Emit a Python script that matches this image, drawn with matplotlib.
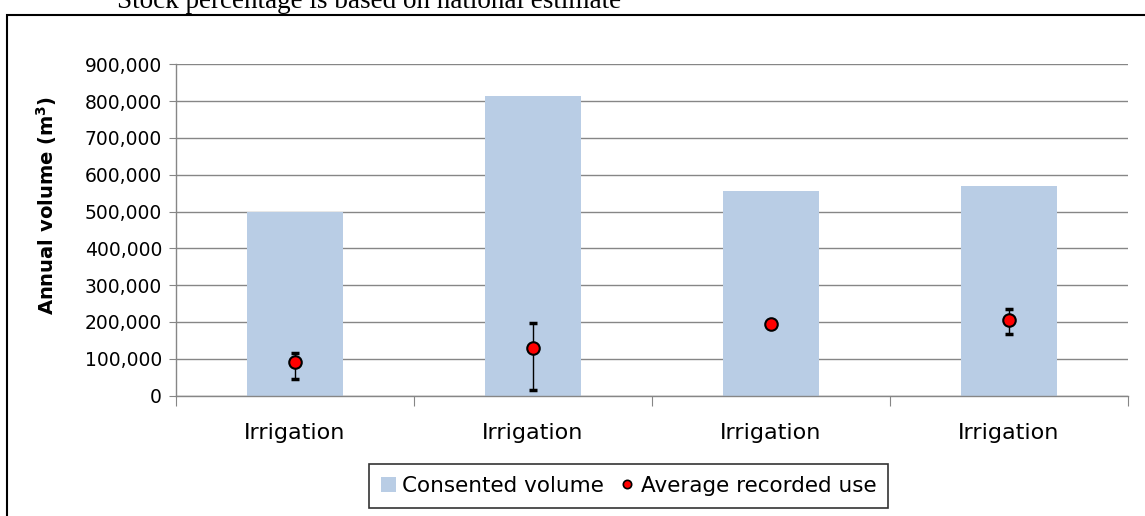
import numpy as np
import matplotlib.pyplot as plt
from matplotlib.patches import Rectangle
from matplotlib.ticker import FuncFormatter, FixedLocator

# chart data
categories = ["Irrigation", "Irrigation", "Irrigation", "Irrigation"]
consented = [500000, 815000, 555000, 570000]
avg_use = [92000, 130000, 193000, 204000]
use_low = [46000, 14000, 193000, 166000]
use_high = [115000, 197000, 193000, 236000]

bar_color = "#b9cde5"
grid_color = "#868686"
font = "DejaVu Sans"

fig = plt.figure(figsize=(11.45, 5.16), dpi=100)
ax = fig.add_axes([176 / 1145, 1 - 395.5 / 516, (1128 - 176) / 1145, (395.5 - 64.3) / 516])

x = np.arange(len(categories))
bars = ax.bar(x, consented, width=0.4, color=bar_color, zorder=2, label="Consented volume")

err = [np.array(avg_use) - np.array(use_low), np.array(use_high) - np.array(avg_use)]
ax.errorbar(x, avg_use, yerr=err, fmt="none", ecolor="black", elinewidth=1,
            capsize=3, capthick=2.5, zorder=3)
pts, = ax.plot(x, avg_use, "o", ms=9, mfc="#ff0000", mec="black", mew=1.5, zorder=4,
               linestyle="none", label="Average recorded use")

ax.set_xlim(-0.5, len(categories) - 0.5)
ax.set_ylim(0, 900000)
ax.set_yticks(np.arange(0, 900001, 100000))
ax.yaxis.set_major_formatter(FuncFormatter(lambda v, p: f"{int(v):,}"))
ax.yaxis.grid(True, color=grid_color, lw=1, zorder=0)
ax.set_axisbelow(True)

# ticks sit between the categories, labels under the bars
ax.xaxis.set_major_locator(FixedLocator(np.arange(-0.5, len(categories), 1.0)))
ax.xaxis.set_major_formatter(FuncFormatter(lambda v, p: ""))
ax.xaxis.set_minor_locator(FixedLocator(x))
ax.set_xticklabels(categories, minor=True)
ax.tick_params(axis="x", which="major", length=7, color=grid_color, direction="out")
ax.tick_params(axis="x", which="minor", length=0, pad=20, labelsize=16)
ax.tick_params(axis="y", length=5, color=grid_color, labelsize=13.5, pad=5)

for lab in ax.get_xticklabels(minor=True) + ax.get_yticklabels():
    lab.set_fontfamily(font)

for side in ["top", "right"]:
    ax.spines[side].set_visible(False)
for side in ["left", "bottom"]:
    ax.spines[side].set_color(grid_color)
    ax.spines[side].set_linewidth(1)

ax.set_ylabel("Annual volume (m$^\\mathbf{3}$)", fontsize=14, fontweight="bold",
              fontfamily=font)
ax.yaxis.set_label_coords(-117 / 952, 0.575)

leg = fig.legend(handles=[bars, pts], loc="center",
                 bbox_to_anchor=(628.5 / 1145, 1 - 486 / 516),
                 ncol=2, frameon=True, fancybox=False, edgecolor="black",
                 prop={"family": font, "size": 15.5},
                 handlelength=0.7, handleheight=0.7, handletextpad=0.3,
                 columnspacing=0.7, borderpad=0.55, borderaxespad=0)
leg.get_frame().set_linewidth(1.2)
leg.legend_handles[1].set_markersize(6)
leg.legend_handles[1].set_markeredgewidth(1.2)

# outer frame of the chart area
fig.add_artist(Rectangle((7 / 1145, -0.2), 1.2, 1 - 15 / 516 + 0.2,
                         transform=fig.transFigure, fill=False,
                         edgecolor="black", lw=1.5))
fig.text(117 / 1145, 1 - 8 / 516, "Stock percentage is based on national estimate",
         fontfamily="Liberation Serif", fontsize=19.5, va="baseline", ha="left")

fig.savefig("out.png", dpi=100)
